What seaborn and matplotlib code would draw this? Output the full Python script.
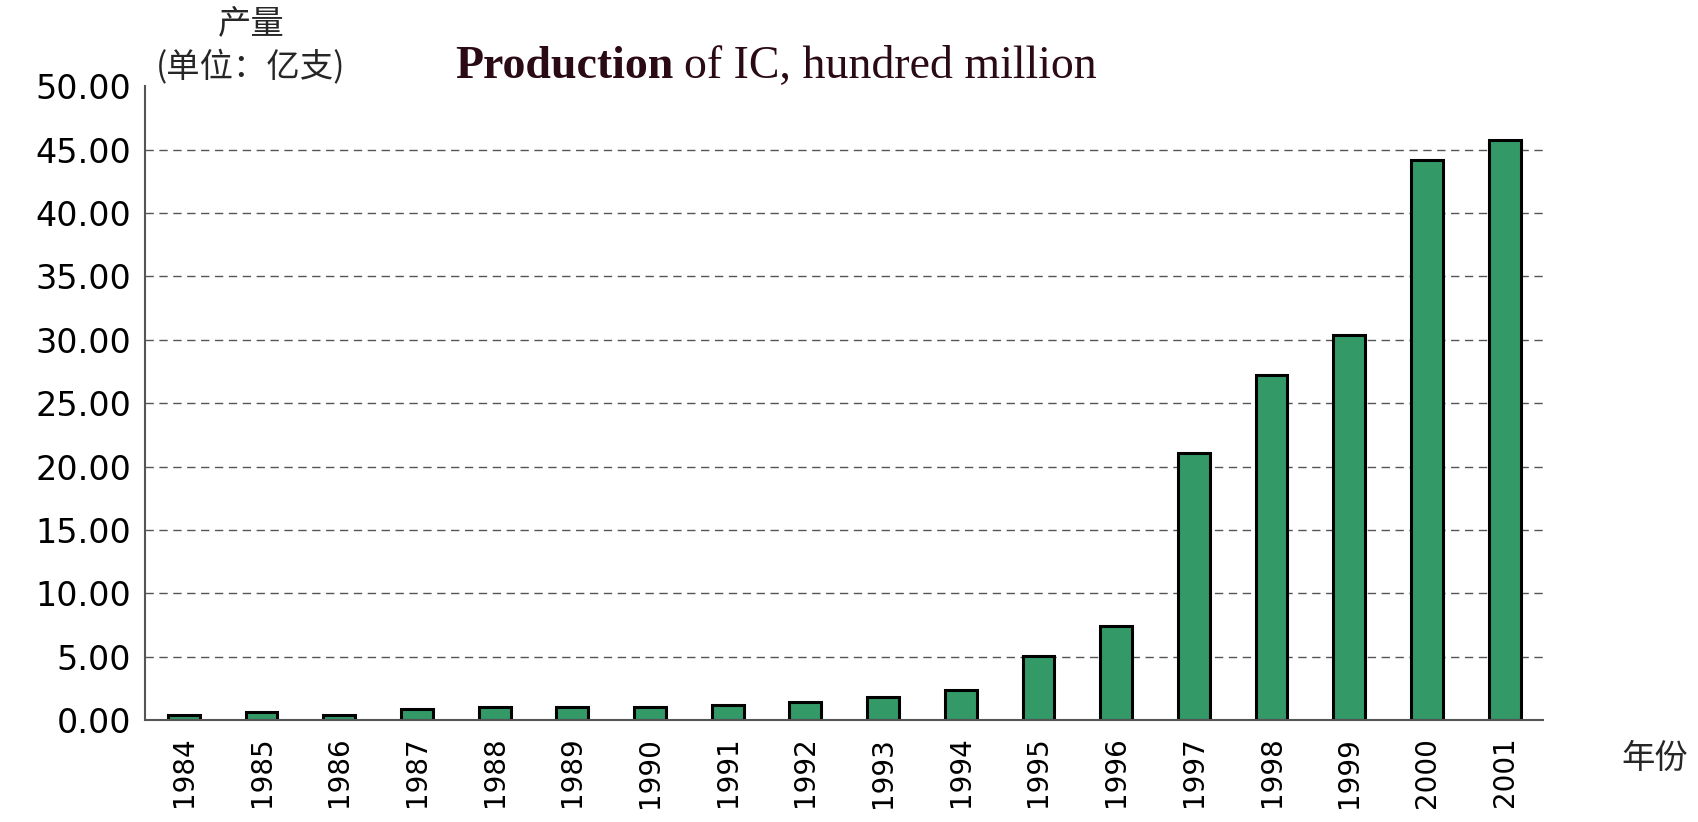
import pandas as pd
import matplotlib
matplotlib.use("Agg")
import matplotlib.pyplot as plt
import seaborn as sns

# Data
years = ['1984', '1985', '1986', '1987', '1988', '1989', '1990', '1991', '1992',
         '1993', '1994', '1995', '1996', '1997', '1998', '1999', '2000', '2001']
production = [0.40, 0.60, 0.40, 0.85, 1.00, 1.00, 1.00, 1.20, 1.42,
              1.82, 2.40, 5.05, 7.45, 21.1, 27.2, 30.4, 44.2, 45.8]
y_ticks = [0, 5, 10, 15, 20, 25, 30, 35, 40, 45, 50]

ic_data = pd.DataFrame({'year': years, 'production': production})

sns.set_style("white")
plt.rcParams['font.family'] = ['DejaVu Sans', 'Noto Sans CJK SC']

fig = plt.figure(figsize=(16.98, 8.22), dpi=100)
ax = fig.add_axes([0.0854, 0.124, 0.8236, 0.771])

sns.barplot(data=ic_data, x='year', y='production', color='#339966',
            saturation=1, edgecolor='black', linewidth=2.2, width=0.41, ax=ax)

ax.set_xlim(-0.5, len(years) - 0.5)
ax.set_ylim(0, 50)
ax.set_yticks(y_ticks)
ax.set_yticklabels([f"{v:.2f}" for v in y_ticks], fontsize=24, color='black')
ax.tick_params(axis='y', direction='in', length=9, width=1.2, color='#555555', pad=10)

# labels under bars, divider ticks between categories
ax.set_xticks(range(len(years)))
ax.set_xticklabels(years, rotation=90, fontsize=20, color='black')
ax.set_xticks([i + 0.5 for i in range(len(years))], minor=True)
ax.tick_params(axis='x', which='major', length=0, pad=12)
ax.tick_params(axis='x', which='minor', direction='in', length=10, width=1.2, color='#555555')

# dashed gridlines
for v in y_ticks[1:-1]:
    ax.axhline(v, color='#555555', linestyle=(0, (6, 4)), linewidth=1, zorder=0)

sns.despine(ax=ax)
for side in ['left', 'bottom']:
    ax.spines[side].set_color('#555555')
    ax.spines[side].set_linewidth(1.5)

ax.set_xlabel('')
ax.set_ylabel('')

# axis captions
fig.text(251 / 1698, 1 - 24 / 822, '产量', ha='center', va='center',
         fontsize=24, family=['Noto Sans CJK SC', 'DejaVu Sans'])
fig.text(251 / 1698, 1 - 67 / 822, '(单位：亿支)', ha='center', va='center',
         fontsize=24, family=['Noto Sans CJK SC', 'DejaVu Sans'])
fig.text(1655 / 1698, 1 - 758 / 822, '年份', ha='center', va='center',
         fontsize=24, family=['Noto Sans CJK SC', 'DejaVu Sans'])

# title: bold first word, rest regular
title_color = '#2a0a14'
t1 = fig.text(455 / 1698, 1 - 67 / 822, 'Production', ha='left', va='center',
              fontsize=33, fontweight='bold', family='Liberation Serif', color=title_color)
fig.canvas.draw()
bb = t1.get_window_extent()
fig.text((bb.x1 + 11) / 1698, 1 - 67 / 822, 'of IC, hundred million', ha='left', va='center',
         fontsize=33, family='Liberation Serif', color=title_color)

plt.savefig("out.png", dpi=100)
